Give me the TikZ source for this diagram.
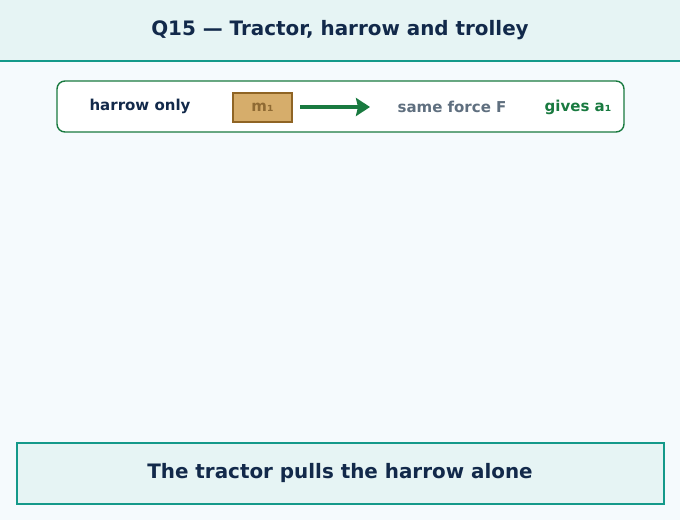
\documentclass[tikz,border=0pt]{standalone}
\usepackage{fontspec}
\setmainfont{DejaVu Sans}
\usetikzlibrary{arrows.meta}
\definecolor{bg}{HTML}{F5FAFD}
\definecolor{band}{HTML}{E6F4F4}
\definecolor{teal}{HTML}{14998A}
\definecolor{navy}{HTML}{12294A}
\definecolor{grn}{HTML}{197A40}
\definecolor{tan}{HTML}{D6AD6B}
\definecolor{tanedge}{HTML}{8F6424}
\definecolor{tantext}{HTML}{8F6A33}
\definecolor{grayt}{HTML}{5F6F7F}
\tikzset{
  lbl/.style={font=\bfseries\fontsize{15}{17}\selectfont, inner sep=0pt},
  bigt/.style={font=\bfseries\fontsize{19.9}{23}\selectfont, text=navy, inner sep=0pt},
}
\begin{document}
\begin{tikzpicture}[x=1pt,y=-1pt]
\useasboundingbox (0,0) rectangle (680,520);
\fill[bg] (0,0) rectangle (680,520);
\fill[band] (0,0) rectangle (680,61);
\draw[teal, line width=2.5pt] (0,61) -- (680,61);
\node[bigt] (title) at (340,30) {Q15 — Tractor, harrow and trolley};
\node[draw=grn, line width=1.4pt, fill=white, rounded corners=8pt, minimum width=567pt, minimum height=51pt, inner sep=0pt] (panel) at (340.5,106.5) {};
\node[lbl, text=navy] (ho) at (140,106.5) {harrow only};
\node[draw=tanedge, fill=tan, line width=1.3pt, minimum width=59pt, minimum height=29pt, inner sep=0pt, lbl, text=tantext] (m1) at (262.5,107.5) {m₁};
\coordinate (as) at (300,107);
\coordinate (ae) at (370,107);
\draw[grn, line width=4.5pt, -{Triangle[length=14pt,width=18pt,inset=2pt]}] (as) -- (ae);
\node[lbl, text=grayt] (sf) at (452,107) {same force F};
\node[lbl, text=grn] (ga) at (578,107) {gives a₁};
\node[draw=teal, fill=band, line width=1.4pt, minimum width=647pt, minimum height=61pt, inner sep=0pt] (bot) at (340.5,473.5) {};
\node[bigt] (bt) at (340,473) {The tractor pulls the harrow alone};
\end{tikzpicture}
\end{document}
